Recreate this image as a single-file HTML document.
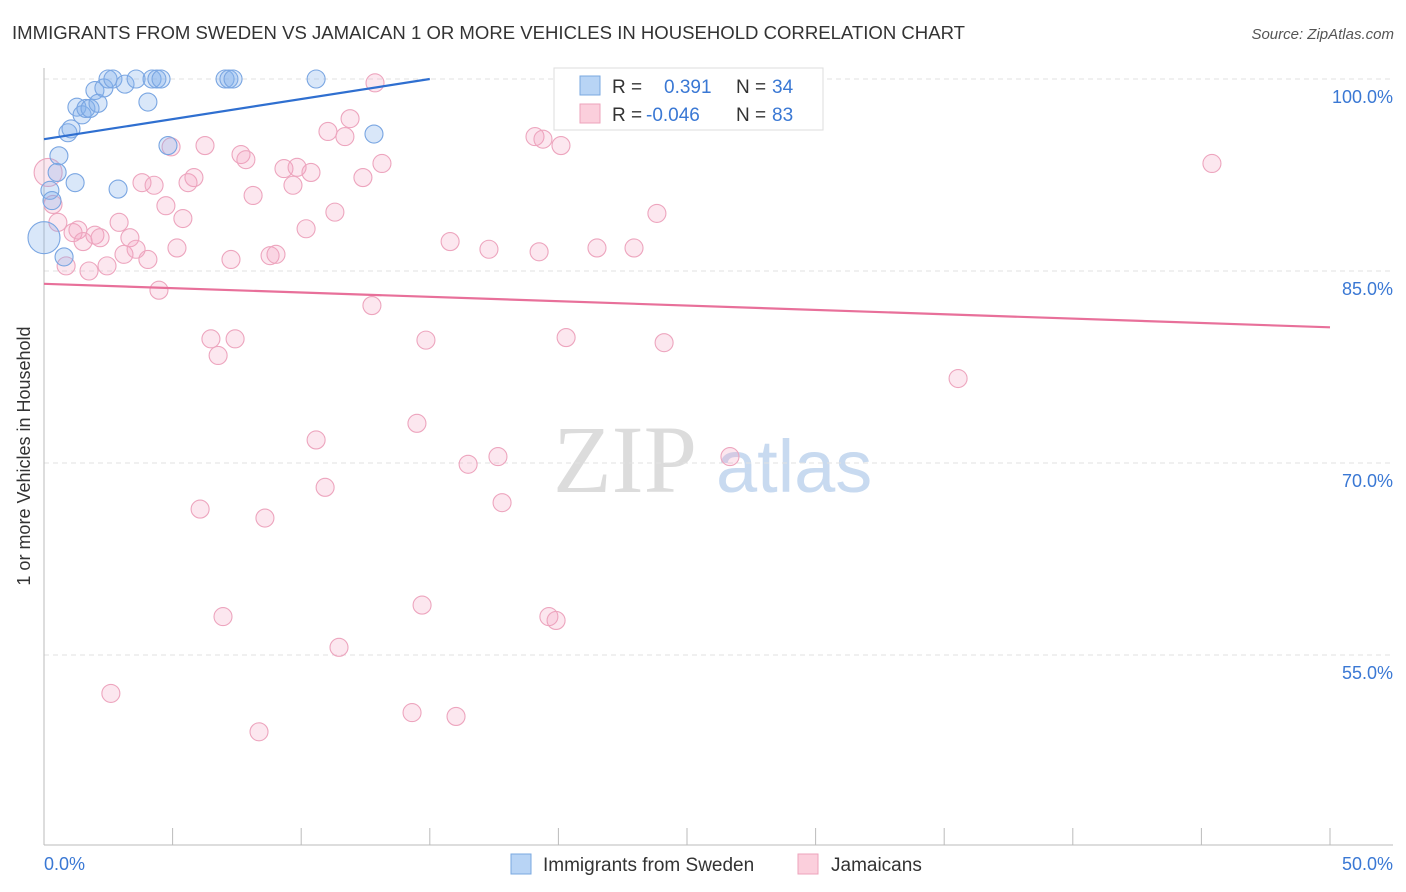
<!DOCTYPE html>
<html><head><meta charset="utf-8">
<style>
body{margin:0;background:#fff;font-family:"Liberation Sans",sans-serif;}
svg{display:block}
</style></head>
<body>
<svg id="chart" width="1406" height="892" viewBox="0 0 1406 892">
<text x="12" y="39" font-size="18" fill="#333" textLength="953" lengthAdjust="spacingAndGlyphs">IMMIGRANTS FROM SWEDEN VS JAMAICAN 1 OR MORE VEHICLES IN HOUSEHOLD CORRELATION CHART</text>
<text x="1394" y="39" font-size="15" fill="#555" font-style="italic" text-anchor="end">Source: ZipAtlas.com</text>
<text x="30" y="456" font-size="18" fill="#333" text-anchor="middle" transform="rotate(-90 30 456)">1 or more Vehicles in Household</text>
<g>
<text x="553" y="492" font-size="96" font-family="Liberation Serif,serif" fill="#dcdcdc">ZIP</text>
<text x="716" y="492" font-size="74" fill="#c8daf0">atlas</text>
</g>
<g id="grid"></g>
<g id="axes"></g>
<g id="points"></g>
<g id="trends"></g>
<g>
<rect x="554" y="68" width="269" height="62" fill="#fff" stroke="#ddd"/>
<rect x="580" y="76" width="20" height="19" fill="#b8d4f5" stroke="#7aa8e0"/>
<rect x="580" y="104" width="20" height="19" fill="#fbcfdc" stroke="#eea3bb"/>
<text x="612" y="93" font-size="19" fill="#333">R =</text>
<text x="664" y="93" font-size="19" fill="#3a78d4">0.391</text>
<text x="736" y="93" font-size="19" fill="#333">N =</text>
<text x="772" y="93" font-size="19" fill="#3a78d4">34</text>
<text x="612" y="121" font-size="19" fill="#333">R =</text>
<text x="646" y="121" font-size="19" fill="#3a78d4">-0.046</text>
<text x="736" y="121" font-size="19" fill="#333">N =</text>
<text x="772" y="121" font-size="19" fill="#3a78d4">83</text>
</g>
<g>
<rect x="511" y="854" width="20" height="20" fill="#b8d4f5" stroke="#7aa8e0"/>
<text x="543" y="871" font-size="19" fill="#333">Immigrants from Sweden</text>
<rect x="798" y="854" width="20" height="20" fill="#fbcfdc" stroke="#eea3bb"/>
<text x="831" y="871" font-size="19" fill="#333">Jamaicans</text>
</g>
</svg>
<script>
const yTicks=[100,85,70,55];
const yTickLabels=["100.0%","85.0%","70.0%","55.0%"];
const xTicks=[0,5,10,15,20,25,30,35,40,45,50];
const xTickLabels=["0.0%","50.0%"];
const swedenX=[0,0.23,0.31,0.51,0.58,0.78,0.93,1.05,1.21,1.28,1.48,1.63,1.79,1.98,2.10,2.33,2.49,2.68,2.88,3.15,3.58,4.04,4.20,4.39,4.55,4.82,7.04,7.19,7.35,10.58,12.83,25.97];
const swedenY=[87.6,91.3,90.5,92.7,94.0,86.1,95.8,96.1,91.9,97.8,97.2,97.7,97.7,99.1,98.1,99.3,100,100,91.4,99.6,100,98.2,100,100,100,94.8,100,100,100,100,95.7,100];
const swedenR=[16,9,9,9,9,9,9,9,9,9,9,9,9,9,9,9,9,9,9,9,9,9,9,9,9,9,9,9,9,9,9,9];
const jamX=[0.16,0.35,0.54,0.86,1.13,1.32,1.52,1.75,1.98,2.18,2.45,2.60,2.92,3.11,3.34,3.58,3.81,4.04,4.28,4.47,4.74,4.94,5.17,5.40,5.60,5.83,6.07,6.26,6.49,6.77,6.96,7.27,7.43,7.66,7.85,8.13,8.36,8.59,8.79,9.02,9.33,9.68,9.84,10.19,10.38,10.58,10.93,11.04,11.31,11.47,11.70,11.90,12.40,12.75,12.87,13.14,14.31,14.50,14.70,14.85,15.79,16.02,16.49,17.30,17.65,17.81,19.09,19.25,19.40,19.63,19.91,20.10,20.30,21.50,22.94,23.83,24.11,26.67,27.57,35.54,45.41];
const jamY=[92.7,90.2,88.8,85.4,88.0,88.2,87.3,85.0,87.8,87.6,85.4,52.0,88.8,86.3,87.6,86.7,91.9,85.9,91.7,83.5,90.1,94.7,86.8,89.1,91.9,92.3,66.4,94.8,79.7,78.4,58.0,85.9,79.7,94.1,93.7,90.9,49.0,65.7,86.2,86.3,93.0,91.7,93.1,88.3,92.7,71.8,68.1,95.9,89.6,55.6,95.5,96.9,92.3,82.3,99.7,93.4,50.5,73.1,58.9,79.6,87.3,50.2,69.9,86.7,70.5,66.9,95.5,86.5,95.3,58.0,57.7,94.8,79.8,86.8,86.8,89.5,79.4,70.5,99.9,76.6,93.4];
const swedenTrend=[95.3,100,0,15];
const jamTrend=[84.0,80.6,0,50];

const NS="http://www.w3.org/2000/svg";
const X=v=>44+v*25.72;
const Y=v=>79+(100-v)*12.8;
function mk(tag,attrs,parent){const e=document.createElementNS(NS,tag);for(const k in attrs)e.setAttribute(k,attrs[k]);parent.appendChild(e);return e;}
const grid=document.getElementById('grid'),axes=document.getElementById('axes'),pts=document.getElementById('points'),tr=document.getElementById('trends');
yTicks.forEach((t,i)=>{
 const l=mk('line',{x1:44,x2:1393,y1:Y(t),y2:Y(t),stroke:'#e2e2e2','stroke-dasharray':'5,4'},grid);
 
 
 const tx=mk('text',{x:1393,y:Y(t)+24,'font-size':18,fill:'#3a78d4','text-anchor':'end'},axes);
 tx.textContent=yTickLabels[i];
 
 
});
const ax=mk('line',{x1:44,x2:1393,y1:845,y2:845,stroke:'#bbb'},axes);


const ay=mk('line',{x1:44,x2:44,y1:68,y2:845,stroke:'#bbb'},axes);


xTicks.forEach(t=>{
 const l=mk('line',{x1:X(t),x2:X(t),y1:828,y2:845,stroke:'#bbb'},axes);
 
 
});
const xl0=mk('text',{x:44,y:870,'font-size':18,fill:'#3a78d4'},axes);xl0.textContent=xTickLabels[0];


const xl1=mk('text',{x:1393,y:870,'font-size':18,fill:'#3a78d4','text-anchor':'end'},axes);xl1.textContent=xTickLabels[1];


jamX.forEach((v,i)=>{
 const c=mk('circle',{cx:X(v),cy:Y(jamY[i]),r:i==0?14:9,fill:'rgba(244,160,190,0.25)',stroke:'#eda5be','stroke-width':1.1},pts);
 
 
});
swedenX.forEach((v,i)=>{
 const c=mk('circle',{cx:X(v),cy:Y(swedenY[i]),r:swedenR[i],fill:'rgba(130,175,235,0.3)',stroke:'#7aa6e2','stroke-width':1.1},pts);
 
 
});
const t1=mk('line',{x1:X(swedenTrend[2]),y1:Y(swedenTrend[0]),x2:X(swedenTrend[3]),y2:Y(swedenTrend[1]),stroke:'#2f6fd0','stroke-width':2.2},tr);


const t2=mk('line',{x1:X(jamTrend[2]),y1:Y(jamTrend[0]),x2:X(jamTrend[3]),y2:Y(jamTrend[1]),stroke:'#e8709a','stroke-width':2.2},tr);


</script>
</body></html>
